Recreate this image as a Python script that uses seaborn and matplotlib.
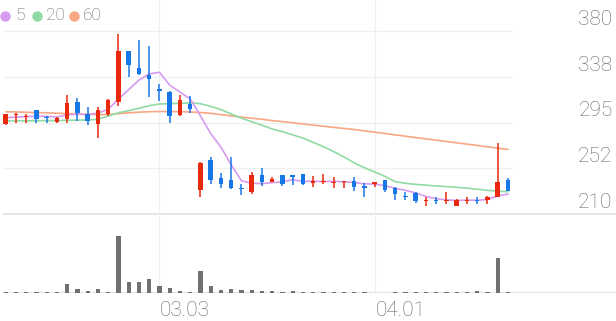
import numpy as np
import pandas as pd
import matplotlib
matplotlib.use("Agg")
import matplotlib.pyplot as plt
import seaborn as sns

# ---------------- data ----------------
dates = ["02.10", "02.11", "02.12", "02.13", "02.14", "02.17", "02.18", "02.19", "02.20", "02.21",
         "02.24", "02.25", "02.26", "02.27", "02.28", "03.03", "03.04", "03.05", "03.06", "03.07",
         "03.10", "03.11", "03.12", "03.13", "03.14", "03.17", "03.18", "03.19", "03.20", "03.21",
         "03.24", "03.25", "03.26", "03.27", "03.28", "03.31", "04.01", "04.02", "04.03", "04.04",
         "04.07", "04.08", "04.09", "04.10", "04.11", "04.14", "04.15", "04.16", "04.17", "04.18"]

opens = [294, 302, 300, 306.6, 300.4, 295.5, 298.5, 313.8, 303, 294,
         302.6, 314, 361, 346, 339, 326.4, 323, 302, 312.5, 232,
         260, 243.4, 242, 234.5, 230, 246, 239.7, 246, 246.5, 247.2,
         239.1, 239.7, 239, 239.5, 240.7, 235.7, 238.2, 241.6, 234.5, 227,
         229.8, 222, 223, 222, 217.4, 222, 223, 223, 226, 242]
highs = [303, 304, 303, 307, 301, 300, 321, 317.5, 309, 309.5,
         316.5, 377, 361.5, 372, 366, 331, 324, 321, 320, 258.5,
         263, 248.4, 263, 237.6, 249, 253, 244, 246.5, 246.5, 247.5,
         245.3, 247, 244, 240.5, 244, 239, 239.5, 242, 235, 230,
         230, 225.5, 225.5, 230.7, 223.5, 225.5, 225.5, 227, 275.6, 243]
lows = [293, 295, 294.5, 295, 295, 295, 295, 296, 292.4, 281,
        301, 310, 337, 339, 319, 315, 294.5, 301.5, 303.5, 225.5,
        238, 234, 233.5, 227.7, 229, 236, 239.5, 236, 236.6, 237,
        235.4, 238, 234.5, 234.5, 231.4, 226, 234.8, 230.7, 223, 223,
        220, 217.5, 219.3, 219.3, 217, 219.3, 219.3, 219.3, 225.5, 231]
closes = [302.6, 303, 300.8, 298.5, 299, 299, 313.4, 303.8, 296, 307,
          316, 361, 348, 340, 335.7, 324, 301, 316, 308, 257,
          241.6, 238, 234, 233.5, 246, 239.4, 242.5, 237.6, 244, 237.6,
          240.7, 240.4, 240, 240.4, 235, 234, 239.4, 232.3, 228.6, 225.5,
          222, 223, 222, 223, 223, 223.3, 222, 226, 239.7, 231.6]
volumes = [8, 8, 8, 8, 6, 8, 87, 43, 20, 37,
           13, 573, 114, 114, 140, 74, 47, 20, 13, 217,
           67, 34, 37, 34, 30, 17, 17, 10, 17, 13,
           10, 10, 10, 10, 10, 10, 4, 4, 10, 10,
           10, 10, 10, 10, 10, 10, 17, 10, 350, 7]
ma5 = [299.5, 300, 300.5, 300.8, 300.8, 300.1, 302.1, 302.7, 302.2, 303.8,
       307.2, 316.8, 325.6, 334.4, 340.1, 341.7, 329.7, 323.3, 316.9, 301.2,
       284.7, 272.1, 255.7, 240.8, 238.6, 238.2, 239.1, 239.8, 241.9, 240.2,
       240.5, 240.1, 240.5, 239.8, 239.3, 238.0, 237.8, 236.2, 233.9, 232.0,
       229.6, 226.3, 224.2, 223.1, 222.6, 222.9, 222.7, 223.5, 226.8, 228.5]
ma20 = [296.4, 296.5, 296.5, 296.6, 296.7, 296.8, 297, 297.2, 297.3, 298,
        301, 304, 306, 308.2, 310.6, 312.2, 312.5, 312.8, 313.2, 312.5,
        310, 307, 303, 299, 295.8, 292.5, 289, 286.5, 283.5, 280.5,
        276.5, 272.5, 268, 263, 257.5, 253, 249, 245, 240, 238.5,
        237.5, 236.8, 236, 235.5, 234.8, 234, 233, 232, 231.2, 230.7]
ma60 = [305, 304.8, 304.5, 304.2, 304, 303.6, 303.3, 303, 302.6, 302.3,
        302.5, 303.2, 304, 304.6, 305, 305.2, 305.2, 305, 304.8, 304.3,
        303.5, 302.3, 301.2, 300, 299, 298, 296.8, 295.8, 294.8, 293.6,
        292.6, 291.5, 290.5, 289.5, 288.5, 287.2, 286, 284.8, 283.5, 282.3,
        281, 279.8, 278.6, 277.4, 276.1, 274.9, 273.7, 272.4, 271.2, 270]

y_ticks = [380, 337.5, 295, 252.5, 210]
y_tick_labels = ["380", "338", "295", "252", "210"]
x_tick_labels = ["03.03", "04.01"]
legend_labels = ["5", "20", "60"]

# ---------------- styling ----------------
sns.set_style("white")
plt.rcParams["font.family"] = ["Roboto", "DejaVu Sans"]

UP = "#e8290d"
DOWN = "#1877e6"
MA_COLORS = ["#d79bef", "#8fdba3", "#f8a784"]
TEXT = "#666666"
GRID = "#f0f0f0"
BASE = "#e4e4e4"
VOL = "#707070"

W, H = 616, 321
fig = plt.figure(figsize=(W / 100, H / 100), dpi=100)

n = len(dates)
idx = np.arange(n)
step = 10.25
x0px = 5.7
xlim = (-x0px / step, (W - x0px) / step)

def px2data_x(px):
    return (px - x0px) / step

# price axis: y 0..214 px
ax = fig.add_axes([0, 1 - 214 / H, 1, 214 / H])
# volume axis: y 214..293 px
axv = fig.add_axes([0, 1 - 293 / H, 1, 79 / H])

ppu = (214 - 31) / (380 - 210)
ylim_price = (210, 380 + 31 / ppu)

# moving averages (seaborn)
df = pd.DataFrame({"i": idx, "ma5": ma5, "ma20": ma20, "ma60": ma60})
for col, c in zip(["ma60", "ma20", "ma5"], [MA_COLORS[2], MA_COLORS[1], MA_COLORS[0]]):
    sns.lineplot(data=df, x="i", y=col, ax=ax, color=c, lw=1.2, zorder=2)

for a in (ax, axv):
    a.set_xlim(*xlim)
    a.set_axis_off()
ax.set_ylim(*ylim_price)

# grid lines
gx0, gx1 = px2data_x(3), px2data_x(512)
ax.hlines(y_ticks[:-1], gx0, gx1, color=GRID, lw=1.0, zorder=0)
ax.hlines([210], gx0, xlim[1], color=BASE, lw=1.3, zorder=0, clip_on=False)

pos = [dates.index(t) for t in x_tick_labels]
for p in pos:
    ax.axvline(p, color=GRID, lw=1.0, zorder=0)
    axv.axvline(p, color=GRID, lw=1.0, zorder=0)

# candles
o = np.array(opens); c = np.array(closes); hi = np.array(highs); lo = np.array(lows)
colors = [UP if cc >= oo else DOWN for oo, cc in zip(o, c)]
ax.vlines(idx, lo, hi, colors=colors, lw=1.1, zorder=3)
bottoms = np.minimum(o, c)
heights = np.maximum(np.abs(c - o), 0.9)
ax.bar(idx, heights, bottom=bottoms, width=0.44, color=colors, zorder=4, linewidth=0)

# volume
axv.bar(idx, volumes, width=0.4, color=VOL, linewidth=0, zorder=3)
axv.set_ylim(0, max(volumes) * 79 / 57.3)
axv.axhline(0, xmin=3 / W, xmax=1, color=BASE, lw=1.5, zorder=2)

# y labels (right, above grid lines)
for v, lab in zip(y_ticks, y_tick_labels):
    ax.annotate(lab, xy=(612.5 / W, v), xycoords=("axes fraction", "data"),
                xytext=(0, 6 * 0.72), textcoords="offset points",
                ha="right", va="baseline", fontsize=15, color=TEXT,
                fontweight="light", annotation_clip=False)

# x labels (left-aligned at the date grid line)
for p, lab in zip(pos, x_tick_labels):
    axv.annotate(lab, xy=(p, 0), xycoords=("data", "axes fraction"),
                 xytext=(0.5, -23 * 0.72), textcoords="offset points",
                 ha="left", va="baseline", fontsize=15, color=TEXT,
                 fontweight="light", annotation_clip=False)

# legend
legend_dot_x = [5, 37, 74]
legend_text_x = [15.5, 46, 82.5]
for dx, tx, lab, col in zip(legend_dot_x, legend_text_x, legend_labels, MA_COLORS):
    fig.add_artist(plt.Line2D([dx / W], [1 - 15.7 / H], marker="o", markersize=7.5,
                              color=col, markeredgewidth=0, transform=fig.transFigure))
    fig.text(tx / W, 1 - 15.7 / H, lab, ha="left", va="center", fontsize=12.5,
             color=TEXT, fontweight="light")

fig.savefig("out.png", dpi=100, facecolor="white")
